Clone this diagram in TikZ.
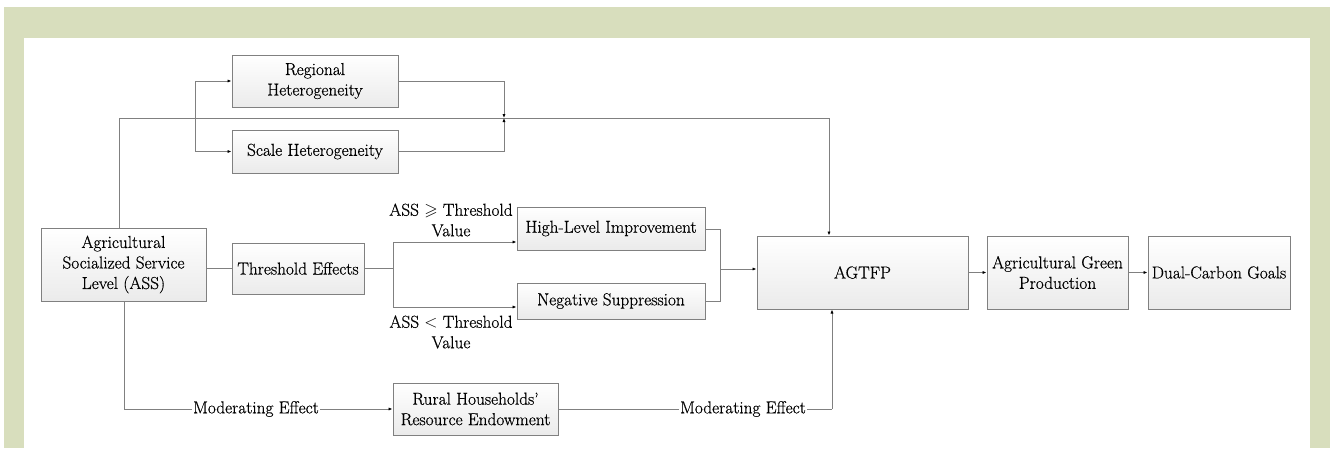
\documentclass[tikz,border=0pt]{standalone}
\usepackage{amssymb}
\usepackage{fontspec}
\newfontfamily\tnr{Latin Modern Roman}[FakeBold=0.5]
\usetikzlibrary{arrows.meta}
\definecolor{bggreen}{RGB}{216,222,189}
\definecolor{linegray}{RGB}{128,128,128}
\tikzset{
  txt/.style={font=\tnr\fontsize{17.3}{20.5}\selectfont},
  box/.style={txt, draw=linegray, line width=1pt, top color=white, bottom color=gray!16,
    inner sep=0pt, align=center},
  conn/.style={draw=linegray, line width=1pt},
  arr/.style={conn, -{Latex[length=4pt,width=3.2pt,color=black]}},
  lbl/.style={txt, fill=white, inner sep=1pt, align=center},
  freelbl/.style={txt, inner sep=0pt, align=center}
}
\begin{document}
\begin{tikzpicture}[x=1pt,y=-1pt]
\useasboundingbox (0,0) rectangle (1330,448);
\fill[bggreen] (4,7) rectangle (1330,448);
\fill[white] (24,38) rectangle (1310,448);

\node[box, minimum width=165pt, minimum height=73pt] (ass) at (123.5,264.5) {Agricultural\\Socialized Service\\Level (ASS)};
\node[box, minimum width=166pt, minimum height=52pt] (reg) at (315,81) {Regional\\Heterogeneity};
\node[box, minimum width=166pt, minimum height=43pt] (scale) at (315,151.5) {Scale Heterogeneity};
\node[box, minimum width=132pt, minimum height=51pt] (thr) at (298,268.5) {Threshold Effects};
\node[box, minimum width=188pt, minimum height=43pt] (high) at (611,228.5) {High-Level Improvement};
\node[box, minimum width=188pt, minimum height=36pt] (neg) at (611,301) {Negative Suppression};
\node[box, minimum width=211pt, minimum height=73pt] (agtfp) at (862.5,272.5) {AGTFP};
\node[box, minimum width=141pt, minimum height=73pt] (agp) at (1057.5,272.5) {Agricultural Green\\Production};
\node[box, minimum width=142pt, minimum height=73pt] (dcg) at (1219,272.5) {Dual-Carbon Goals};
\node[box, minimum width=165pt, minimum height=52pt] (rural) at (475.5,409) {Rural Households’\\Resource Endowment};

% coordinates
\coordinate (topL) at (119,118);
\coordinate (hj) at (504,118);
\coordinate (tj) at (829,118);
\coordinate (bj) at (195,118);
\coordinate (thrj) at (393,268);
\coordinate (mj) at (720,269);
\coordinate (modL) at (124,409);
\coordinate (modR) at (832,409);

% main top line
\draw[conn] (ass.north -| topL) -- (topL) -- (tj);
\draw[arr] (tj) -- (agtfp.north -| tj);

% heterogeneity
\draw[arr] (bj) |- (reg.west);
\draw[arr] (bj) |- (scale.west);
\draw[arr] (reg.east) -| (hj);
\draw[arr] (scale.east) -| (hj);

% threshold
\draw[conn] (ass.east |- thrj) -- (thr.west |- thrj);
\draw[conn] (thr.east |- thrj) -- (thrj);
\draw[arr] (thrj) |- (high.west |- 393,242);
\draw[arr] (thrj) |- (neg.west |- 393,307);
\node[freelbl] (lblhi) at (451,220) {ASS $\geqslant$ Threshold\\Value};
\node[freelbl] (lbllo) at (451,332) {ASS $<$ Threshold\\Value};

% merge
\draw[conn] (high.east |- 705,229) -| (mj);
\draw[conn] (neg.east) -| (mj);
\draw[arr] (mj) -- (agtfp.west |- mj);

\draw[arr] (agtfp.east) -- (agp.west);
\draw[arr] (agp.east) -- (dcg.west);

% moderating
\draw[arr] (ass.south -| modL) -- (modL) -- (rural.west);
\node[lbl] (modlbl1) at (256,409) {Moderating Effect};
\draw[conn] (rural.east) -- (modR);
\draw[arr] (modR) -- (agtfp.south -| modR);
\node[lbl] (modlbl2) at (743,409) {Moderating Effect};
\end{tikzpicture}
\end{document}
